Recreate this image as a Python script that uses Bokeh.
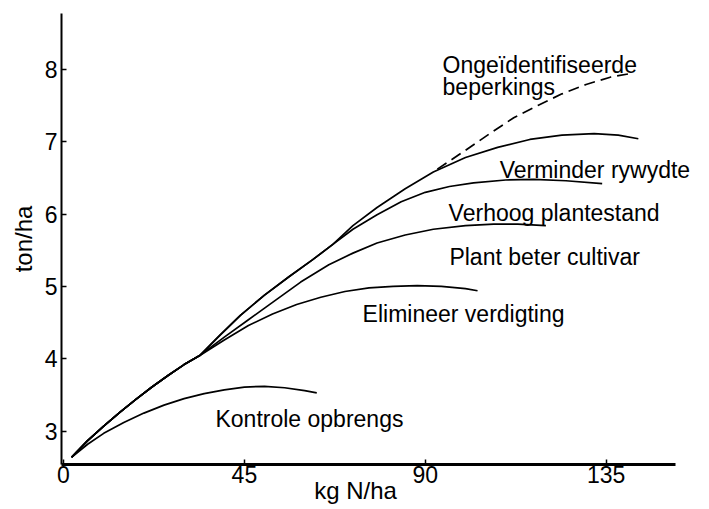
from bokeh.plotting import figure
from bokeh.models import Range1d, FixedTicker
from bokeh.core.properties import value
from bokeh.embed import file_html
from bokeh.resources import INLINE

# ---- data ----
x_ticks = [0, 45, 90, 135]
y_ticks = [3, 4, 5, 6, 7, 8]

# shared rising section of the four upper curves
common_x = [2, 6, 10, 14, 18, 22, 26, 30, 34]
common_y = [2.64, 2.87, 3.07, 3.26, 3.44, 3.61, 3.77, 3.92, 4.05]

kontrole_x = [2, 6, 10, 15, 20, 25, 30, 35, 40, 45, 50, 55, 60, 63]
kontrole_y = [2.64, 2.82, 2.97, 3.12, 3.25, 3.36, 3.45, 3.52, 3.57, 3.61, 3.62, 3.60, 3.56, 3.53]

elimineer_x = common_x + [40, 46, 52, 58, 64, 70, 76, 82, 88, 94, 100, 103]
elimineer_y = common_y + [4.26, 4.46, 4.62, 4.75, 4.85, 4.93, 4.98, 5.00, 5.01, 5.00, 4.97, 4.94]

cultivar_x = common_x + [40, 46, 52, 59, 66, 72, 78, 85, 92, 100, 107, 113, 120]
cultivar_y = common_y + [4.30, 4.54, 4.78, 5.06, 5.30, 5.46, 5.60, 5.71, 5.79, 5.84, 5.86, 5.86, 5.84]

top_x = common_x + [39, 44, 50, 56, 62, 67]
top_y = common_y + [4.33, 4.60, 4.88, 5.13, 5.37, 5.58]

plantestand_x = top_x + [72, 78, 84, 90, 96, 102, 110, 117, 125, 134]
plantestand_y = top_y + [5.79, 5.99, 6.17, 6.30, 6.38, 6.43, 6.47, 6.48, 6.46, 6.42]

rywydte_x = top_x + [72, 78, 85, 92, 100, 108, 116, 124, 132, 138, 143]
rywydte_y = top_y + [5.84, 6.09, 6.35, 6.58, 6.78, 6.92, 7.03, 7.09, 7.11, 7.09, 7.04]

onbekend_x = [93, 100, 106, 112, 118, 124, 130, 136, 141]
onbekend_y = [6.62, 6.88, 7.11, 7.33, 7.50, 7.66, 7.79, 7.89, 7.94]

curve_labels = ["Kontrole opbrengs", "Elimineer verdigting", "Plant beter cultivar",
                "Verhoog plantestand", "Verminder rywydte", "Ongeïdentifiseerde", "beperkings"]
label_x = [37.8, 74.4, 96.0, 95.8, 108.5, 94.3, 94.3]
label_y = [3.175, 4.62, 5.40, 6.02, 6.61, 8.06, 7.76]

x_axis_extent = (-0.5, 152.2)
y_axis_extent = (2.54, 8.77)
x_title = "kg N/ha"
y_title = "ton/ha"

FONT = "Liberation Sans"

p = figure(width=709, height=509, output_backend="svg", toolbar_location=None,
           x_range=Range1d(-0.5, 160.7), y_range=Range1d(*y_axis_extent),
           min_border_left=61, min_border_right=0, min_border_top=13, min_border_bottom=45)
p.outline_line_color = None
p.xgrid.visible = False
p.ygrid.visible = False
p.background_fill_color = "white"
p.border_fill_color = "white"

p.xaxis[0].bounds = x_axis_extent
p.yaxis[0].bounds = y_axis_extent
# non-breaking spaces shift the centred title left, as in the original
p.xaxis[0].axis_label = x_title + "\u00a0" * 9
p.yaxis[0].axis_label = y_title

for ax, ticks in ((p.xaxis[0], x_ticks), (p.yaxis[0], y_ticks)):
    ax.ticker = FixedTicker(ticks=ticks)
    ax.minor_tick_line_color = None
    ax.major_tick_out = 0
    ax.major_tick_in = 5
    ax.major_tick_line_width = 1.5
    ax.axis_line_color = "black"
    ax.major_tick_line_color = "black"
    ax.major_label_text_font = FONT
    ax.major_label_text_font_size = "23px"
    ax.major_label_text_color = "black"
    ax.axis_label_text_font = FONT
    ax.axis_label_text_font_size = "24px"
    ax.axis_label_text_font_style = "normal"
    ax.axis_label_text_color = "black"
p.xaxis[0].axis_line_width = 3
p.yaxis[0].axis_line_width = 2
p.xaxis[0].major_label_standoff = 1
p.xaxis[0].axis_label_standoff = -9
p.xaxis[0].axis_label_text_line_height = 0.8
p.yaxis[0].major_label_standoff = 4
p.yaxis[0].axis_label_standoff = 5

lw = 1.7
p.line(kontrole_x, kontrole_y, line_color="black", line_width=lw)
p.line(elimineer_x, elimineer_y, line_color="black", line_width=lw)
p.line(cultivar_x, cultivar_y, line_color="black", line_width=lw)
p.line(plantestand_x, plantestand_y, line_color="black", line_width=lw)
p.line(rywydte_x, rywydte_y, line_color="black", line_width=lw)
p.line(onbekend_x, onbekend_y, line_color="black", line_width=lw, line_dash="11 6")

p.text(x=label_x, y=label_y, text=curve_labels, text_font=value(FONT),
       text_font_size="23px", text_color="black", text_align="left",
       text_baseline="alphabetic")

open("out.html", "w").write(file_html(p, INLINE))
